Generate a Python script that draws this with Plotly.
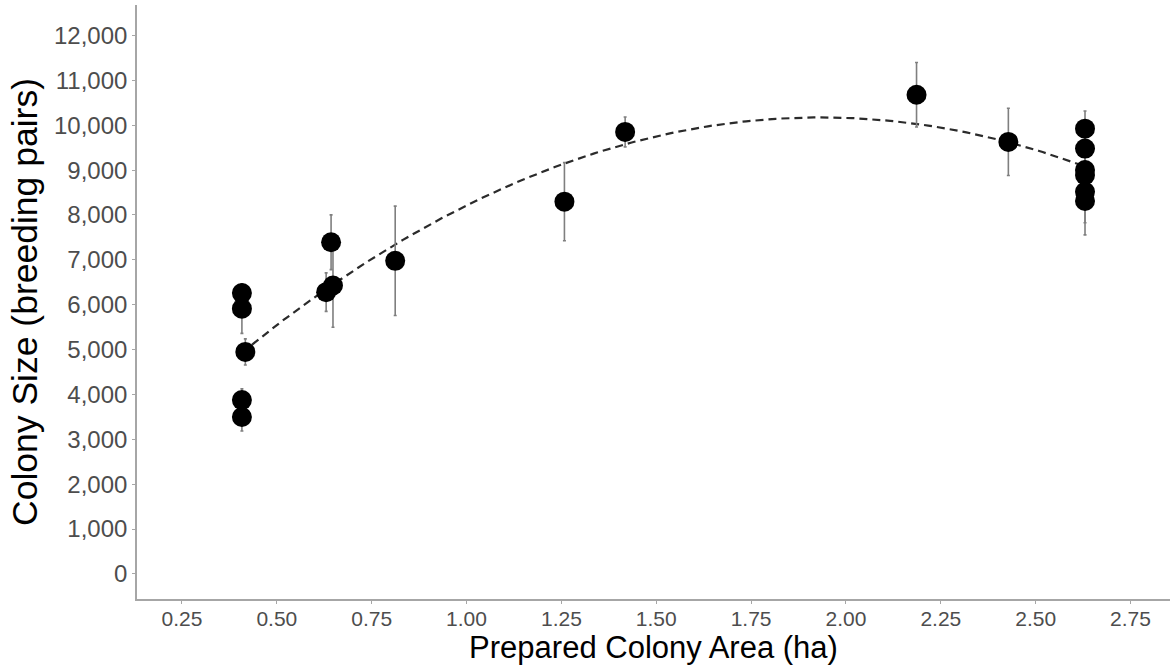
import numpy as np
import plotly.graph_objects as go

# Colony observations: prepared area (ha), colony size (breeding pairs) and its error
area_ha = [0.408, 0.408, 0.417, 0.408, 0.408,
           0.630, 0.648, 0.643, 0.812,
           1.258, 1.418, 2.186, 2.428,
           2.630, 2.630, 2.630, 2.630, 2.630, 2.630]
pairs = [6258, 5911, 4947, 3873, 3496,
         6280, 6429, 7391, 6978,
         8296, 9851, 10680, 9629,
         9924, 9480, 9000, 8889, 8518, 8311]
pairs_err = [200, 550, 290, 250, 312,
             430, 933, 610, 1220,
             870, 333, 720, 750,
             394, 400, 400, 400, 690, 755]

x_ticks = [0.25, 0.50, 0.75, 1.00, 1.25, 1.50, 1.75, 2.00, 2.25, 2.50, 2.75]
y_ticks = list(range(0, 12001, 1000))

# Second-order polynomial fit across the observed area range
coef = np.polyfit(area_ha, pairs, 2)
fit_x = np.linspace(min(area_ha), max(area_ha), 200)
fit_y = np.polyval(coef, fit_x)

fig = go.Figure()
fig.add_trace(go.Scatter(
    x=fit_x, y=fit_y, mode="lines",
    line=dict(color="#2b2b2b", width=2.2, dash="8px,5px"),
    hoverinfo="skip", showlegend=False,
))
fig.add_trace(go.Scatter(
    x=area_ha, y=pairs, mode="markers",
    marker=dict(color="black", size=20, line=dict(width=0)),
    error_y=dict(type="data", array=pairs_err, visible=True,
                 color="#7f7f7f", thickness=1.6, width=1.5),
    showlegend=False,
))

axis_common = dict(
    showgrid=False, zeroline=False, showline=True,
    linecolor="#a6a6a6", linewidth=1.6,
    ticks="outside", ticklen=3, tickwidth=1.2, tickcolor="#a6a6a6",
)

fig.update_layout(
    width=1172, height=665,
    margin=dict(l=137, r=2, t=5, b=66),
    paper_bgcolor="white", plot_bgcolor="white",
    font=dict(family="Liberation Sans, Arial, sans-serif", color="black"),
    xaxis=dict(
        range=[0.1315, 2.854], tickvals=x_ticks,
        ticktext=[f"{v:.2f}" for v in x_ticks],
        tickfont=dict(size=21, color="#4d4d4d"),
        ticklabelstandoff=-3,
        title=dict(text="Prepared Colony Area (ha)",
                   font=dict(size=31, color="black"), standoff=0),
        **axis_common,
    ),
    yaxis=dict(
        range=[-560, 12680], tickvals=y_ticks,
        ticktext=[f"{v:,}" for v in y_ticks],
        tickfont=dict(size=24, color="#4d4d4d"),
        title=dict(text="Colony Size (breeding pairs)",
                   font=dict(size=35.5, color="black"), standoff=6),
        **axis_common,
    ),
)

fig.write_html("out.html")
